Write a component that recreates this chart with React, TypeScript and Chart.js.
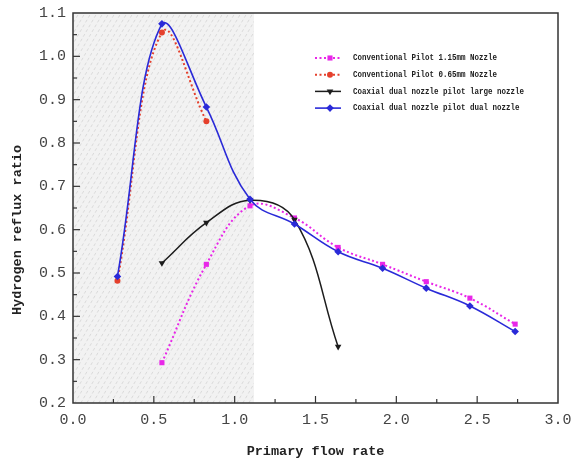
import React, { useEffect, useRef } from "react";
import { Chart, registerables } from "chart.js";

Chart.register(...registerables);

// ---- data ----
const flowRates = [0.275, 0.55, 0.825, 1.095, 1.37, 1.64, 1.915, 2.185, 2.455, 2.735];
const pilot115 = [null, 0.293, 0.52, 0.655, 0.627, 0.559, 0.52, 0.48, 0.442, 0.382];
const pilot065 = [0.482, 1.055, 0.85, null, null, null, null, null, null, null];
const dualLarge = [null, 0.523, 0.616, 0.668, 0.623, 0.33, null, null, null, null];
const dualDual = [0.492, 1.075, 0.883, 0.67, 0.613, 0.549, 0.511, 0.465, 0.424, 0.365];

const seriesNames = [
  "Conventional Pilot 1.15mm Nozzle",
  "Conventional Pilot 0.65mm Nozzle",
  "Coaxial dual nozzle pilot large nozzle",
  "Coaxial dual nozzle pilot dual nozzle",
];

const xAxisTitle = "Primary flow rate";
const yAxisTitle = "Hydrogen reflux ratio";
const xRange = [0, 3];
const yRange = [0.2, 1.1];
const xMajorStep = 0.5;
const yMajorStep = 0.1;
const shadedRange = [0, 1.12];

const MONO = "'Liberation Mono', 'DejaVu Sans Mono', monospace";

function toPoints(ys: (number | null)[]) {
  const out: { x: number; y: number }[] = [];
  ys.forEach((y, i) => {
    if (y !== null) out.push({ x: flowRates[i], y });
  });
  return out;
}

const styles = [
  { color: "#e826e8", dash: [2, 2.5], point: "rect", radius: 3.6, rotation: 0, width: 2 },
  { color: "#e5402c", dash: [2, 2.5], point: "circle", radius: 3, rotation: 0, width: 2 },
  { color: "#1c1c1c", dash: [], point: "triangle", radius: 3.8, rotation: 180, width: 1.5 },
  { color: "#2a2ad8", dash: [], point: "rectRot", radius: 3.8, rotation: 0, width: 1.6 },
];

function drawMarker(ctx: CanvasRenderingContext2D, kind: string, x: number, y: number, r: number, rot: number) {
  ctx.beginPath();
  if (kind === "rect") {
    const s = r * Math.SQRT1_2;
    ctx.rect(x - s, y - s, 2 * s, 2 * s);
  } else if (kind === "circle") {
    ctx.arc(x, y, r, 0, Math.PI * 2);
  } else if (kind === "triangle") {
    const d = rot === 180 ? 1 : -1; // apex down when rotated
    ctx.moveTo(x, y + d * r);
    ctx.lineTo(x - r * 0.87, y - d * r * 0.5);
    ctx.lineTo(x + r * 0.87, y - d * r * 0.5);
    ctx.closePath();
  } else {
    ctx.moveTo(x, y - r);
    ctx.lineTo(x + r, y);
    ctx.lineTo(x, y + r);
    ctx.lineTo(x - r, y);
    ctx.closePath();
  }
  ctx.fill();
}

const decorPlugin = {
  id: "decor",
  beforeDatasetsDraw(chart: any) {
    const { ctx, chartArea, scales } = chart;
    const x0 = scales.x.getPixelForValue(shadedRange[0]);
    const x1 = scales.x.getPixelForValue(shadedRange[1]);
    const top = chartArea.top;
    const bottom = chartArea.bottom;
    const h = bottom - top;
    ctx.save();
    ctx.beginPath();
    ctx.rect(x0, top, x1 - x0, h);
    ctx.clip();
    ctx.fillStyle = "#f2f2f2";
    ctx.fillRect(x0, top, x1 - x0, h);
    ctx.strokeStyle = "#dadada";
    ctx.lineWidth = 1;
    ctx.setLineDash([3, 2.5]);
    const slant = h * 0.58;
    for (let k = x0 - slant; k < x1 + 6; k += 6) {
      ctx.beginPath();
      ctx.moveTo(k, bottom);
      ctx.lineTo(k + slant, top);
      ctx.stroke();
    }
    ctx.restore();
  },
  afterDatasetsDraw(chart: any) {
    const { ctx, chartArea, scales } = chart;
    const { left, right, top, bottom } = chartArea;
    ctx.save();
    ctx.strokeStyle = "#333";
    ctx.lineWidth = 1.5;
    ctx.setLineDash([]);
    ctx.strokeRect(left, top, right - left, bottom - top);
    ctx.lineWidth = 1.2;
    const nx = Math.round((xRange[1] - xRange[0]) / (xMajorStep / 2));
    for (let i = 1; i < nx; i++) {
      const v = xRange[0] + (i * xMajorStep) / 2;
      const px = scales.x.getPixelForValue(v);
      const len = i % 2 === 0 ? 7 : 4;
      ctx.beginPath();
      ctx.moveTo(px, bottom);
      ctx.lineTo(px, bottom - len);
      ctx.stroke();
    }
    const ny = Math.round((yRange[1] - yRange[0]) / (yMajorStep / 2));
    for (let i = 1; i < ny; i++) {
      const v = yRange[0] + (i * yMajorStep) / 2;
      const py = scales.y.getPixelForValue(v);
      const len = i % 2 === 0 ? 7 : 4;
      ctx.beginPath();
      ctx.moveTo(left, py);
      ctx.lineTo(left + len, py);
      ctx.stroke();
    }
    ctx.restore();
  },
  afterDraw(chart: any) {
    const { ctx, chartArea } = chart;
    ctx.save();
    ctx.translate(18, (chartArea.top + chartArea.bottom) / 2 + 22);
    ctx.rotate(-Math.PI / 2);
    ctx.font = `bold 13.5px ${MONO}`;
    ctx.fillStyle = "#222";
    ctx.textAlign = "center";
    ctx.textBaseline = "middle";
    ctx.fillText(yAxisTitle, 0, 0);
    ctx.restore();

    ctx.save();
    const lx0 = 315;
    const lx1 = 341;
    const mx = 330;
    const tx = 353;
    seriesNames.forEach((name, i) => {
      const st = styles[i];
      const y = 58 + i * 16.7;
      ctx.strokeStyle = st.color;
      ctx.fillStyle = st.color;
      ctx.lineWidth = st.width;
      ctx.setLineDash(st.dash);
      ctx.beginPath();
      ctx.moveTo(lx0, y);
      ctx.lineTo(lx1, y);
      ctx.stroke();
      ctx.setLineDash([]);
      drawMarker(ctx, st.point, mx, y, st.radius, st.rotation);
      ctx.fillStyle = "#222";
      ctx.font = `bold 9px ${MONO}`;
      ctx.textAlign = "left";
      ctx.textBaseline = "middle";
      ctx.fillText(name, tx, y, name.length * 4.5);
    });
    ctx.restore();
  },
};

export default function App() {
  const ref = useRef<HTMLCanvasElement | null>(null);
  useEffect(() => {
    if (!ref.current) return;
    const seriesData = [pilot115, pilot065, dualLarge, dualDual];
    const orders = [3, 2, 1, 0];
    const chart = new Chart(ref.current, {
      type: "line",
      data: {
        datasets: seriesData.map((ys, i) => ({
          label: seriesNames[i],
          data: toPoints(ys),
          borderColor: styles[i].color,
          backgroundColor: styles[i].color,
          borderWidth: styles[i].width,
          borderDash: styles[i].dash,
          pointStyle: styles[i].point as any,
          pointRadius: styles[i].radius,
          pointRotation: styles[i].rotation,
          pointBorderWidth: 0,
          tension: 0.4,
          fill: false,
          order: orders[i],
        })),
      },
      options: {
        animation: false,
        responsive: false,
        layout: { padding: { top: 13, right: 13, left: 0, bottom: 0 } },
        plugins: { legend: { display: false }, tooltip: { enabled: false } },
        scales: {
          x: {
            type: "linear",
            min: xRange[0],
            max: xRange[1],
            grid: { display: false, drawTicks: false },
            border: { display: false },
            ticks: {
              stepSize: xMajorStep,
              padding: 8,
              autoSkip: false,
              maxRotation: 0,
              color: "#444",
              font: { family: MONO, size: 15 },
              callback: (v: any) => Number(v).toFixed(1),
            },
            title: {
              display: true,
              text: xAxisTitle,
              color: "#222",
              font: { family: MONO, size: 13.5, weight: "bold" },
              padding: { top: 0, bottom: 4 },
            },
            afterFit: (s: any) => {
              s.height = 61;
              s.paddingLeft = 0;
              s.paddingRight = 0;
            },
          },
          y: {
            min: yRange[0],
            max: yRange[1],
            grid: { display: false, drawTicks: false },
            border: { display: false },
            ticks: {
              stepSize: yMajorStep,
              padding: 7,
              color: "#444",
              font: { family: MONO, size: 15 },
              callback: (v: any) => Number(v).toFixed(1),
            },
            afterFit: (s: any) => {
              s.width = 73;
              s.paddingTop = 0;
              s.paddingBottom = 0;
            },
          },
        },
      },
      plugins: [decorPlugin],
    });
    return () => chart.destroy();
  }, []);
  return (
    <div style={{ position: "absolute", left: 0, top: 0, width: 571, height: 464, background: "#fff" }}>
      <canvas ref={ref} width={571} height={464} style={{ display: "block" }} />
    </div>
  );
}
